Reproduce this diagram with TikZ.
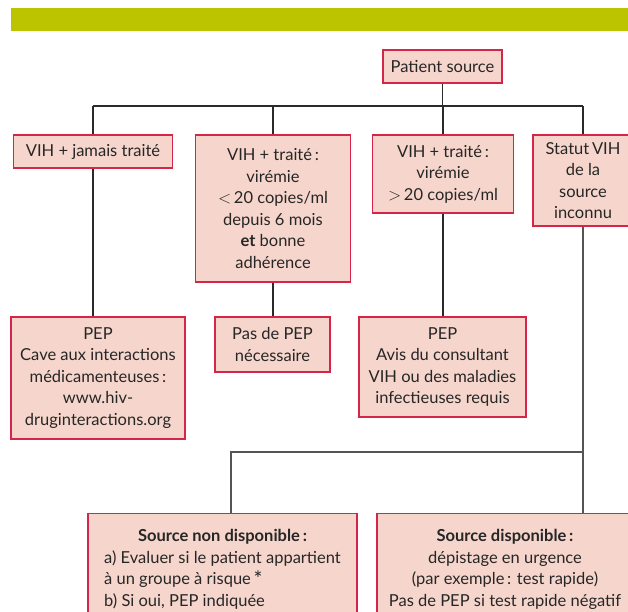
\documentclass[tikz,border=0pt]{standalone}
\usepackage{fontspec}
\setmainfont{Lato}
\definecolor{barcol}{HTML}{BCC400}
\definecolor{boxfill}{HTML}{F6D6CC}
\definecolor{boxline}{HTML}{D5264A}
\definecolor{linedark}{HTML}{2A2A2A}
\definecolor{linegray}{HTML}{555555}
\definecolor{txt}{HTML}{262626}
\begin{document}
\begin{tikzpicture}[x=1pt,y=-1pt,
  box/.style={draw=boxline, fill=boxfill, line width=1.2pt, align=center,
    inner sep=2pt, font=\fontsize{16.5}{21.5}\selectfont, text=txt},
  conn/.style={draw=linedark, line width=1.1pt},
  conng/.style={draw=linegray, line width=1.3pt}]
\useasboundingbox (0,0) rectangle (628,611);
\clip (0,0) rectangle (628,611);
\fill[barcol] (11,8) rectangle (640,31);

\node[box, minimum width=119pt, minimum height=33pt] (ps) at (442.5,66.5) {Patient source};

\node[box, minimum width=159pt, minimum height=33pt] (b1) at (93,151.5) {VIH + jamais traité};
\node[box, minimum width=155pt, minimum height=147pt] (b2) at (273,208.5) {VIH + traité\,:\\ virémie\\ $<$\,20 copies/ml\\ depuis 6 mois\\ \textbf{et} bonne\\ adhérence};
\node[box, minimum width=141pt, minimum height=78pt] (b3) at (443,174) {VIH + traité\,:\\ virémie\\ $>$\,20 copies/ml};
\node[box, minimum width=100pt, minimum height=91pt] (b4) at (583,180.5) {Statut\,VIH\\ de la\\ source\\ inconnu};

\node[box, minimum width=174pt, minimum height=122pt] (b5) at (98,378) {PEP\\ Cave aux interactions\\ médicamenteuses\,:\\ www.hiv-\\ druginteractions.org};
\node[box, minimum width=115pt, minimum height=55pt] (b6) at (272.5,344.5) {Pas de PEP\\ nécessaire};
\node[box, minimum width=167pt, minimum height=100pt] (b7) at (442.5,367) {PEP\\ Avis du consultant\\ VIH ou des maladies\\ infectieuses requis};

\node[box, anchor=north, minimum width=269pt, minimum height=112pt] (b8) at (222.5,513)
  {\begin{tabular}{@{}l@{}}\multicolumn{1}{@{}c@{}}{\textbf{Source non disponible\,:}}\\
   a) Evaluer si le patient appartient\\ à un groupe à risque\,\raisebox{-1.5pt}{\fontsize{21}{21}\selectfont *}\\ b) Si oui, PEP indiquée\end{tabular}};
\node[box, anchor=north, minimum width=256pt, minimum height=112pt] (b9) at (505,513)
  {\textbf{Source disponible\,:}\\ dépistage en urgence\\ (par exemple\,: test rapide)\\ Pas de PEP si test rapide négatif};

\coordinate (bus) at (0,106);
\coordinate (j2) at (0,452);
\coordinate (j3) at (231,452);

\draw[conn] (ps.south) -- (ps.south |- bus);
\draw[conn] (b1.north |- bus) -- (b4.north |- bus);
\foreach \n in {b1,b2,b3,b4} \draw[conn] (\n.north |- bus) -- (\n.north);
\draw[conn] (b1.south) -- (b1.south |- b5.north);
\draw[conn] (b2.south) -- (b2.south |- b6.north);
\draw[conn] (b3.south) -- (b3.south |- b7.north);
\draw[conng] (b4.south) -- (b4.south |- b9.north);
\draw[conng] (b4.south |- j2) -- (j3) -- (j3 |- b8.north);
\end{tikzpicture}
\end{document}
